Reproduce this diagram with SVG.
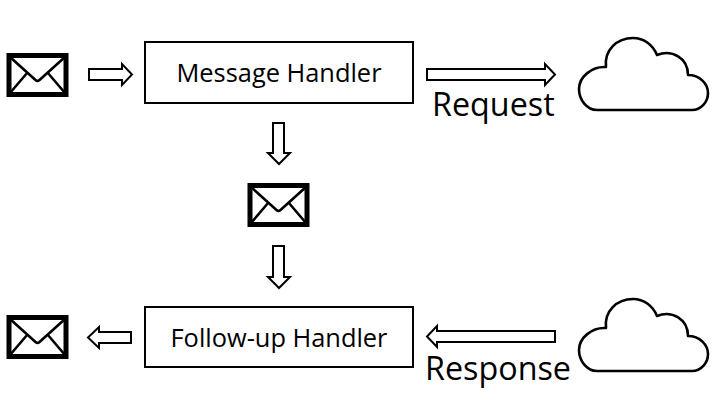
<svg xmlns="http://www.w3.org/2000/svg" width="719" height="413" viewBox="0 0 719 413">
<style>
text{font-family:"Open Sans","Noto Sans",sans-serif;fill:#000}
.box{fill:#fff;stroke:#000;stroke-width:2}
.arrow{fill:#fff;stroke:#000;stroke-width:2}
.cloud{fill:#fff;stroke:#000;stroke-width:2.6;stroke-linejoin:round}
.lbl{font-size:25.400px;text-anchor:middle}
.big{font-size:32.300px}
.env-o{fill:#fff;stroke:#000;stroke-width:5}
.env-l{fill:none;stroke:#000;stroke-width:2.6;stroke-linejoin:round}
</style>
<defs>
<g id="env">
<rect class="env-o" x="9" y="55.500" width="57" height="39"/>
<path class="env-l" d="M10 57L35.500 80Q37.500 81.800 39.500 80L65 57M10 93L27.500 72.500M65 93L47.500 72.500"/>
</g>
<path id="cld" class="cloud" d="M597 110C587 110 579 100 579 89C579 77 592 66 606 67C604 50 617 38 633 38C644 38 653 45 657 55C672 49 688 58 688 75C700 75 708 84 708 93C708 102 701 110 692 110Z"/>
</defs>
<g id="connectors">
<polygon class="arrow" points="89,69 122,69 122,64 132,74.500 122,85 122,80 89,80"/>
<polygon class="arrow" points="427,69 545,69 545,64 555,74.500 545,85 545,80 427,80"/>
<polygon class="arrow" points="273,123 284,123 284,153 290,153 279,164 268,153 273,153"/>
<polygon class="arrow" points="273,246 284,246 284,277 290,277 279,288 268,277 273,277"/>
<polygon class="arrow" points="131,332 99,332 99,327 88,337.500 99,348 99,343 131,343"/>
<polygon class="arrow" points="555,331 437,331 437,326 427,336.500 437,347 437,342 555,342"/>
</g>
<g id="mail-in"><use href="#env"/></g>
<g id="message-handler"><rect class="box" x="145" y="42" width="268" height="61"/><text class="lbl" x="279" y="82">Message Handler</text></g>
<g id="request-label"><text class="big" x="432" y="116">Request</text></g>
<g id="cloud-top"><use href="#cld"/></g>
<g id="mail-mid"><use href="#env" x="241" y="130"/></g>
<g id="mail-out"><use href="#env" x="0" y="262"/></g>
<g id="followup-handler"><rect class="box" x="145" y="307" width="268" height="60"/><text class="lbl" x="279" y="347">Follow-up Handler</text></g>
<g id="response-label"><text class="big" x="425" y="380">Response</text></g>
<g id="cloud-bottom"><use href="#cld" y="261"/></g>
</svg>
